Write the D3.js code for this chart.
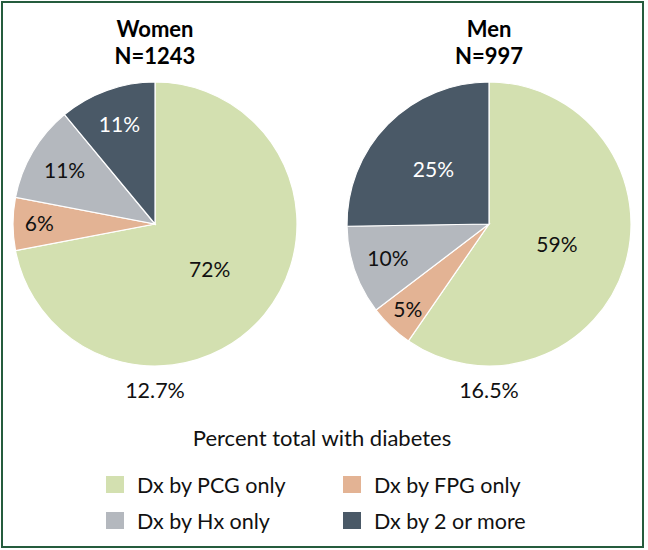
<!DOCTYPE html>
<html><head><meta charset="utf-8">
<script src="https://cdn.jsdelivr.net/npm/d3@7"></script>
<style>body{margin:0;background:#fff}svg{display:block}</style>
</head><body>
<script>
const categories = ["Dx by PCG only", "Dx by FPG only", "Dx by Hx only", "Dx by 2 or more"];
const colors = ["#d3e0b0", "#e3b394", "#b4b8be", "#4a5967"];
const womenValues = [72, 6, 11, 11];
const menValues = [59, 5, 10, 25];
const groupTitles = ["Women", "Men"];
const groupN = ["N=1243", "N=997"];
const totals = ["12.7%", "16.5%"];
const axisTitle = "Percent total with diabetes";

const W = 648, H = 550;
const font = "Lato, 'Open Sans', sans-serif";
const svg = d3.select("body").append("svg").attr("width", W).attr("height", H);

svg.append("rect").attr("x", 2).attr("y", 2).attr("width", 641).attr("height", 545)
  .attr("fill", "#fff").attr("stroke", "#255c3d").attr("stroke-width", 2);

const R = 142;
const centers = d3.scalePoint().domain(groupTitles).range([155, 489]);
const cy = 224;
const color = d3.scaleOrdinal().domain(categories).range(colors);
const labelR = d3.scaleLinear().domain([0.05, 0.11, 0.25, 0.6, 1]).range([0.83, 0.74, 0.55, 0.5, 0.5]).clamp(true);

const pie = d3.pie().sort(null).value(d => d.v);
const arc = d3.arc().innerRadius(0).outerRadius(R);

[womenValues, menValues].forEach((vals, gi) => {
  const cx = centers(groupTitles[gi]);
  const g = svg.append("g").attr("transform", `translate(${cx},${cy})`);
  const data = vals.map((v, i) => ({v, c: categories[i]}));
  const total = d3.sum(vals);
  const arcs = pie(data);
  g.selectAll("path").data(arcs).join("path")
    .attr("d", arc).attr("fill", d => color(d.data.c))
    .attr("stroke", "#fff").attr("stroke-width", 1.2);
  g.selectAll("text").data(arcs).join("text")
    .each(function(d) {
      const share = d.data.v / total;
      const lr = R * labelR(share);
      const a = (d.startAngle + d.endAngle) / 2;
      d3.select(this).attr("x", lr * Math.sin(a)).attr("y", -lr * Math.cos(a));
    })
    .attr("text-anchor", "middle").attr("dy", "0.35em")
    .attr("font-family", font).attr("font-size", 21)
    .attr("fill", d => d.data.c === categories[3] ? "#fff" : "#111")
    .text(d => d.data.v + "%");

  svg.append("text").attr("x", cx).attr("y", 37).attr("text-anchor", "middle")
    .attr("font-family", font).attr("font-weight", "bold").attr("font-size", 22).attr("fill", "#000")
    .text(groupTitles[gi]);
  svg.append("text").attr("x", cx).attr("y", 64).attr("text-anchor", "middle")
    .attr("font-family", font).attr("font-weight", "bold").attr("font-size", 22).attr("fill", "#000")
    .text(groupN[gi]);
  svg.append("text").attr("x", cx).attr("y", 398).attr("text-anchor", "middle")
    .attr("font-family", font).attr("font-size", 21.5).attr("fill", "#111")
    .text(totals[gi]);
});

svg.append("text").attr("x", 322).attr("y", 446).attr("text-anchor", "middle")
  .attr("font-family", font).attr("font-size", 22).attr("fill", "#111").text(axisTitle);

const legX = [106, 343], legY = [476, 512];
const leg = svg.append("g");
categories.forEach((c, i) => {
  const x = legX[i % 2], y = legY[Math.floor(i / 2)];
  leg.append("rect").attr("x", x).attr("y", y).attr("width", 18).attr("height", 17).attr("fill", color(c));
  leg.append("text").attr("x", x + 31).attr("y", y + 17)
    .attr("font-family", font).attr("font-size", 21.5).attr("fill", "#111").text(c);
});
</script>
</body></html>
